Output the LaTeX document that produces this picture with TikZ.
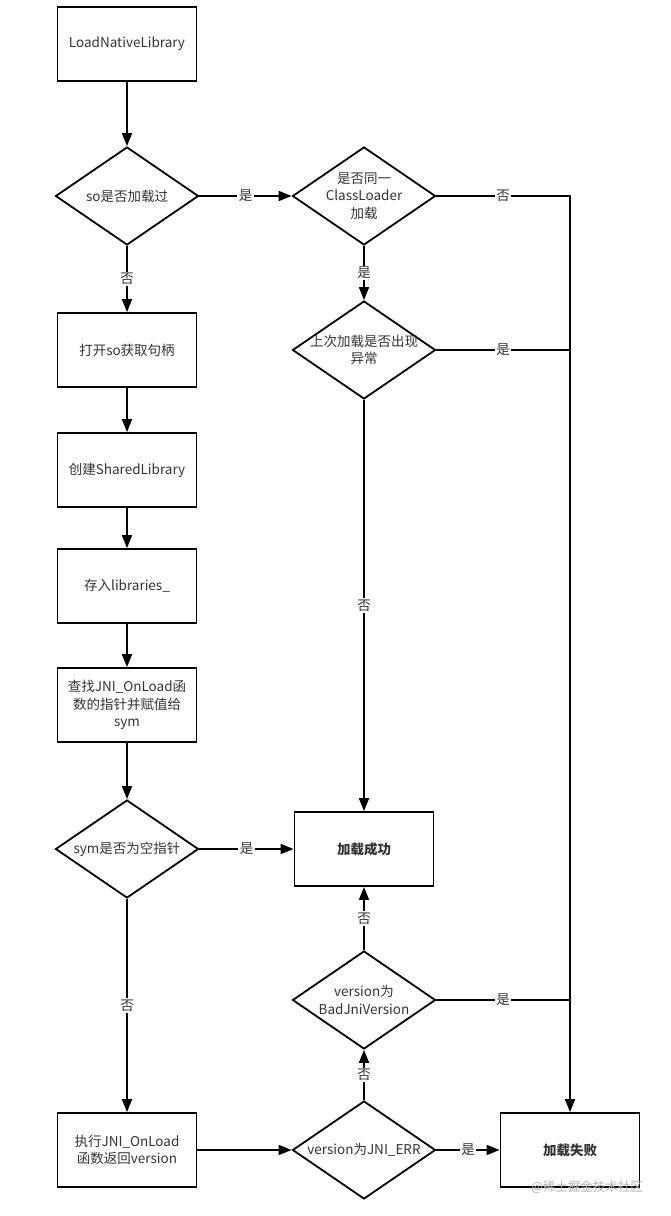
\documentclass[tikz,border=0pt]{standalone}
\usepackage{fontspec}
\setmainfont{Noto Sans CJK SC}
\usetikzlibrary{shapes.geometric,arrows.meta}

\begin{document}
\begin{tikzpicture}
        [x=1pt,y=-1pt,line width=1.8pt,font=\fontsize{13.5}{17.5}\selectfont,
         box/.style={draw,rectangle,minimum width=139pt,minimum height=74pt,align=center,text=black!80},
         decision/.style={draw,diamond,minimum width=143pt,minimum height=98pt,inner sep=0pt},
         inside/.style={align=center,text=black!80},
         flow/.style={-{Triangle[length=13pt,width=10pt]}},
         lbl/.style={fill=white,inner sep=1.5pt,text=black!80}]
        \useasboundingbox (0,0) rectangle (670,1216);

        % left column
        \node[box] (load) at (127,44) {LoadNativeLibrary};
        \node[decision,label={[inside]center:so是否加载过}] (loaded) at (127,196) {};
        \node[box] (open) at (127,350) {打开so获取句柄};
        \node[box] (create) at (127,470) {创建SharedLibrary};
        \node[box] (store) at (127,586) {存入libraries\_};
        \node[box] (find) at (127,705) {查找JNI\_OnLoad函\\数的指针并赋值给\\sym};
        \node[decision,label={[inside]center:sym是否为空指针}] (isnull) at (127,849) {};
        \node[box] (call) at (127,1150) {执行JNI\_OnLoad\\函数返回version};

        % middle column
        \node[decision,label={[inside]center:是否同一\\ClassLoader\\加载}] (same) at (364,196) {};
        \node[decision,label={[inside]center:上次加载是否出现\\异常}] (lasterr) at (364,350) {};
        \node[box,font=\fontsize{13.5}{17.5}\selectfont\bfseries] (ok) at (364,849) {加载成功};
        \node[decision,label={[inside]center:version为\\BadJniVersion}] (badver) at (364,1000) {};
        \node[decision,label={[inside]center:version为JNI\_ERR}] (jnierr) at (364,1150) {};

        % right column
        \node[box,font=\fontsize{13.5}{17.5}\selectfont\bfseries] (fail) at (570,1150) {加载失败};
        \node[text=black!30,font=\fontsize{12.5}{14}\selectfont] (mark) at (587,1187) {@稀土掘金技术社区};

        \draw[flow] (load) -- (loaded);
        \draw[flow] (loaded) -- (same) node[midway,lbl] {是};
        \draw[flow] (loaded) -- (open) node[midway,lbl] {否};
        \draw[flow] (same) -- (lasterr) node[midway,lbl] {是};
        \draw[flow] (same.east) -| (fail.north) node[pos=0.25,lbl] {否};
        \draw (lasterr.east) -- (lasterr.east -| fail.north) node[midway,lbl] {是};
        \draw[flow] (lasterr) -- (ok) node[midway,lbl] {否};

        \draw[flow] (open) -- (create);
        \draw[flow] (create) -- (store);
        \draw[flow] (store) -- (find);
        \draw[flow] (find) -- (isnull);
        \draw[flow] (isnull) -- (ok) node[midway,lbl] {是};
        \draw[flow] (isnull) -- (call) node[midway,lbl] {否};

        \draw[flow] (call) -- (jnierr);
        \draw[flow] (jnierr) -- (fail) node[midway,lbl] {是};
        \draw[flow] (jnierr) -- (badver) node[midway,lbl] {否};
        \draw[flow] (badver) -- (ok) node[midway,lbl] {否};
        \draw (badver.east) -- (badver.east -| fail.north) node[midway,lbl] {是};
      \end{tikzpicture}
\end{document}
